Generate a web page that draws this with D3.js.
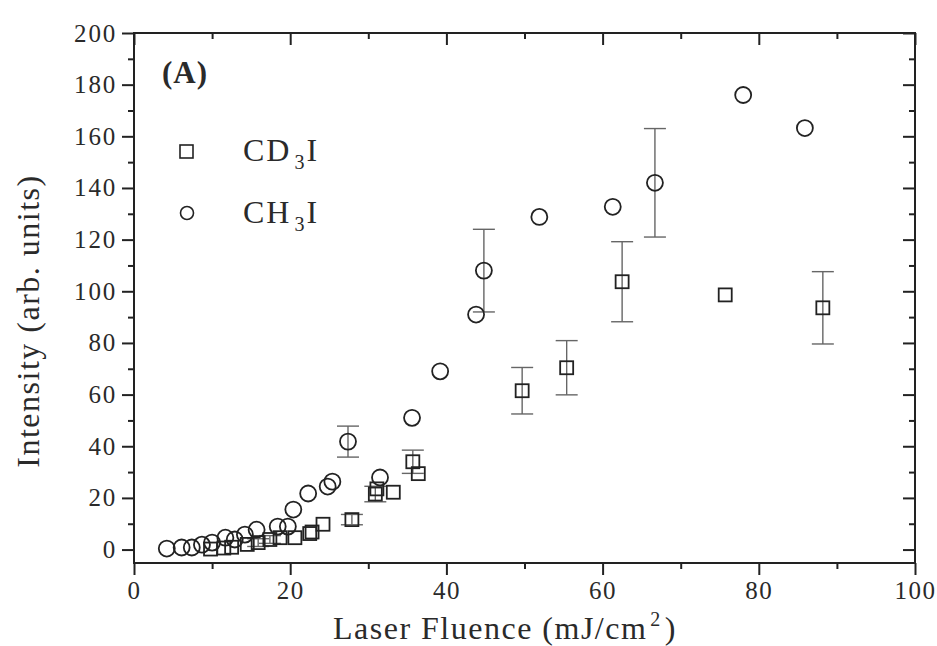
<!DOCTYPE html>
<html>
<head>
<meta charset="utf-8">
<script src="https://cdn.jsdelivr.net/npm/d3@7"></script>
<style>
  html, body { margin: 0; padding: 0; background: #fff; }
  svg { display: block; }
  text { font-family: "Liberation Serif", "Times New Roman", serif; fill: #2a2a2a; }
</style>
</head>
<body>
<svg id="chart" width="937" height="646"></svg>
<script>
// CD3I intensity vs laser fluence
const cd3iFluence   = [9.8, 11.5, 12.5, 14.5, 15.9, 17.4, 18.7, 20.6, 22.5, 22.8, 24.2, 27.9, 30.9, 31.1, 33.2, 35.7, 36.4, 49.7, 55.4, 62.5, 75.7, 88.2];
const cd3iIntensity = [0.2, 0.6, 0.9, 2.0, 2.7, 3.9, 4.6, 4.6, 6.2, 6.8, 9.8, 11.6, 21.5, 23.5, 22.2, 34.0, 29.4, 61.5, 70.4, 103.7, 98.6, 93.6];
const cd3iError     = [0, 0, 0, 0, 1.5, 1.5, 0, 0, 0, 0, 0, 2.0, 3.0, 0, 0, 4.5, 0, 9.0, 10.5, 15.5, 0, 14.0];

// CH3I intensity vs laser fluence
const ch3iFluence   = [4.2, 6.1, 7.4, 8.7, 10.0, 11.7, 12.9, 14.2, 15.7, 18.4, 19.7, 20.4, 22.3, 24.8, 25.4, 27.4, 31.5, 35.6, 39.2, 43.8, 44.8, 51.9, 61.3, 66.7, 78.0, 85.9];
const ch3iIntensity = [0.4, 0.8, 0.8, 1.9, 2.7, 4.6, 3.9, 5.8, 7.7, 8.9, 8.9, 15.5, 21.7, 24.4, 26.3, 41.8, 27.9, 51.0, 69.0, 91.0, 108.0, 128.8, 132.7, 142.0, 176.0, 163.2];
const ch3iError     = [0, 0, 0, 0, 0, 0, 0, 0, 0, 0, 0, 0, 0, 0, 0, 6.0, 0, 0, 0, 0, 16.0, 0, 0, 21.0, 0, 0];

// Axis ticks
const xMajorTicks = [0, 20, 40, 60, 80, 100];
const xMinorTicks = [10, 30, 50, 70, 90];
const yMajorTicks = [0, 20, 40, 60, 80, 100, 120, 140, 160, 180, 200];
const yMinorTicks = [10, 30, 50, 70, 90, 110, 130, 150, 170, 190];

const svg = d3.select("#chart");
const plotLeft = 134, plotRight = 915, plotTop = 33, plotBottom = 563;

const x = d3.scaleLinear().domain([0, 100]).range([plotLeft, plotRight]);
const y = d3.scaleLinear().domain([-5.2, 200]).range([plotBottom, plotTop]);

const axisColor = "#222";
const majorLen = 12, minorLen = 6;

function styleAxis(g) {
  g.select(".domain").remove();
  g.selectAll(".tick line").attr("stroke", axisColor).attr("stroke-width", 2);
}

// bottom axis (outward ticks, labelled)
svg.append("g").attr("transform", `translate(0,${plotBottom})`)
  .call(d3.axisBottom(x).tickValues(xMajorTicks).tickSize(majorLen).tickPadding(6).tickFormat(d3.format("d")))
  .call(styleAxis)
  .call(g => g.selectAll(".tick text").attr("font-size", 25).attr("letter-spacing", 1.5)
    .attr("font-family", "Liberation Serif").attr("fill", "#2a2a2a"));
svg.append("g").attr("transform", `translate(0,${plotBottom})`)
  .call(d3.axisBottom(x).tickValues(xMinorTicks).tickSize(minorLen).tickFormat(""))
  .call(styleAxis);

// top axis (inward ticks)
svg.append("g").attr("transform", `translate(0,${plotTop})`)
  .call(d3.axisTop(x).tickValues(xMajorTicks).tickSize(-majorLen).tickFormat(""))
  .call(styleAxis);
svg.append("g").attr("transform", `translate(0,${plotTop})`)
  .call(d3.axisTop(x).tickValues(xMinorTicks).tickSize(-minorLen).tickFormat(""))
  .call(styleAxis);

// left axis (outward ticks, labelled)
svg.append("g").attr("transform", `translate(${plotLeft},0)`)
  .call(d3.axisLeft(y).tickValues(yMajorTicks).tickSize(majorLen).tickPadding(5).tickFormat(d3.format("d")))
  .call(styleAxis)
  .call(g => g.selectAll(".tick text").attr("font-size", 25).attr("letter-spacing", 1.8)
    .attr("font-family", "Liberation Serif").attr("fill", "#2a2a2a"));
svg.append("g").attr("transform", `translate(${plotLeft},0)`)
  .call(d3.axisLeft(y).tickValues(yMinorTicks).tickSize(minorLen).tickFormat(""))
  .call(styleAxis);

// right axis (inward ticks)
svg.append("g").attr("transform", `translate(${plotRight},0)`)
  .call(d3.axisRight(y).tickValues(yMajorTicks).tickSize(-majorLen).tickFormat(""))
  .call(styleAxis);
svg.append("g").attr("transform", `translate(${plotRight},0)`)
  .call(d3.axisRight(y).tickValues(yMinorTicks).tickSize(-minorLen).tickFormat(""))
  .call(styleAxis);

// plot frame
svg.append("rect")
  .attr("x", plotLeft).attr("y", plotTop)
  .attr("width", plotRight - plotLeft).attr("height", plotBottom - plotTop)
  .attr("fill", "none").attr("stroke", axisColor).attr("stroke-width", 2);

// error bars
function errorBars(xs, ys, es) {
  const rows = xs.map((v, i) => ({ x: v, y: ys[i], e: es[i] })).filter(d => d.e > 0);
  const g = svg.append("g").attr("stroke", "#666").attr("stroke-width", 1.4).attr("fill", "none");
  const capHalf = 11;
  rows.forEach(d => {
    const cx = x(d.x), y1 = y(d.y + d.e), y2 = y(d.y - d.e);
    g.append("line").attr("x1", cx).attr("x2", cx).attr("y1", y1).attr("y2", y2);
    g.append("line").attr("x1", cx - capHalf).attr("x2", cx + capHalf).attr("y1", y1).attr("y2", y1);
    g.append("line").attr("x1", cx - capHalf).attr("x2", cx + capHalf).attr("y1", y2).attr("y2", y2);
  });
}
errorBars(cd3iFluence, cd3iIntensity, cd3iError);
errorBars(ch3iFluence, ch3iIntensity, ch3iError);

const markerStroke = "#222", markerWidth = 1.8;
const sq = 13, rad = 8;

// CD3I squares
svg.append("g").selectAll("rect")
  .data(cd3iFluence.map((v, i) => [v, cd3iIntensity[i]]))
  .join("rect")
  .attr("x", d => x(d[0]) - sq / 2).attr("y", d => y(d[1]) - sq / 2)
  .attr("width", sq).attr("height", sq)
  .attr("fill", "none").attr("stroke", markerStroke).attr("stroke-width", markerWidth);

// CH3I circles
svg.append("g").selectAll("circle")
  .data(ch3iFluence.map((v, i) => [v, ch3iIntensity[i]]))
  .join("circle")
  .attr("cx", d => x(d[0])).attr("cy", d => y(d[1])).attr("r", rad)
  .attr("fill", "none").attr("stroke", markerStroke).attr("stroke-width", markerWidth);

// panel label
svg.append("text").attr("x", 162).attr("y", 83)
  .attr("font-size", 31).attr("font-weight", "bold").attr("letter-spacing", 1).text("(A)");

// legend
const legend = svg.append("g");
legend.append("rect").attr("x", 180).attr("y", 145).attr("width", 13).attr("height", 13)
  .attr("fill", "none").attr("stroke", markerStroke).attr("stroke-width", 1.6);
legend.append("circle").attr("cx", 187).attr("cy", 213).attr("r", 6.5)
  .attr("fill", "none").attr("stroke", markerStroke).attr("stroke-width", 1.6);

function formula(xp, yp, a) {
  const t = legend.append("text").attr("x", xp).attr("y", yp).attr("font-size", 32).attr("letter-spacing", 2);
  t.append("tspan").text(a);
  t.append("tspan").attr("font-size", 20).attr("dy", 8).attr("dx", 3).text("3");
  t.append("tspan").attr("dy", -8).attr("dx", 0).text("I");
}
formula(243, 161, "CD");
formula(243, 223, "CH");

// axis titles
const xt = svg.append("text").attr("x", 505).attr("y", 639).attr("text-anchor", "middle")
  .attr("font-size", 32).attr("letter-spacing", 1.5);
xt.append("tspan").text("Laser Fluence (mJ/cm");
xt.append("tspan").attr("font-size", 20).attr("dy", -13).attr("dx", 3).text("2");
xt.append("tspan").attr("dy", 13).attr("dx", 3).text(")");

svg.append("text")
  .attr("transform", "translate(39,321) rotate(-90)")
  .attr("text-anchor", "middle")
  .attr("font-size", 32).attr("letter-spacing", 1.5)
  .text("Intensity (arb. units)");
</script>
</body>
</html>
